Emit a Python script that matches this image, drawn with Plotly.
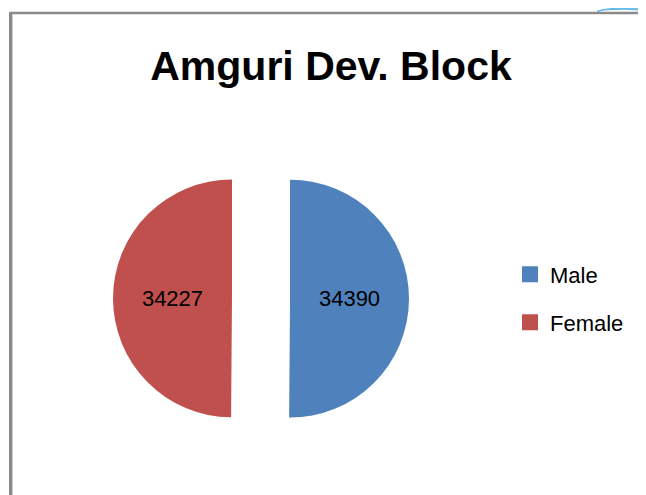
import plotly.graph_objects as go

# ---- data ----
categories = ["Male", "Female"]
values = [34390, 34227]
colors = ["#4F81BD", "#C0504D"]
title_text = "Amguri Dev. Block"

# the page body has an 8px margin; work in screen pixels and convert
OFF = 8
W, H = 646 - OFF, 495 - OFF
FONT = "Liberation Sans, Arial, sans-serif"


def px(x):
    return (x - OFF) / W


def py(y):
    return 1 - (y - OFF) / H


fig = go.Figure()

# pie (exploded slices)
cx, cy, side = 261, 298.5, 296
fig.add_trace(go.Pie(
    labels=categories,
    values=values,
    marker=dict(colors=colors, line=dict(width=0)),
    sort=False,
    direction="clockwise",
    rotation=0,
    pull=[0.244, 0.244],
    texttemplate="%{value:.0f}",
    textposition="inside",
    insidetextorientation="horizontal",
    insidetextfont=dict(family=FONT, size=22, color="#000000"),
    showlegend=False,
    hoverinfo="label+value",
    domain=dict(x=[px(cx - side / 2), px(cx + side / 2)],
                y=[py(cy + side / 2), py(cy - side / 2)]),
))

# legend entries (one legend per category so spacing matches)
legend_names = ["legend", "legend2"]
legend_y = [274.5, 322.5]
for name, col, lg in zip(categories, colors, legend_names):
    fig.add_trace(go.Scatter(
        x=[None], y=[None], mode="markers", name=name,
        marker=dict(symbol="square", size=16, color=col),
        legend=lg, showlegend=True, hoverinfo="skip",
    ))

legend_common = dict(
    font=dict(family=FONT, size=22, color="#000000"),
    bgcolor="rgba(0,0,0,0)", borderwidth=0,
    xanchor="left", yanchor="middle", itemwidth=30,
)
lx = px(510)
fig.update_layout(
    legend=dict(x=lx, y=py(legend_y[0]), **legend_common),
    legend2=dict(x=lx, y=py(legend_y[1]), **legend_common),
)

fig.update_layout(
    width=W, height=H,
    margin=dict(l=0, r=0, t=0, b=0),
    paper_bgcolor="#ffffff",
    plot_bgcolor="rgba(0,0,0,0)",
    showlegend=True,
    xaxis=dict(visible=False, domain=[0, 1]),
    yaxis=dict(visible=False, domain=[0, 1]),
    title=dict(text="<b>" + title_text + "</b>", x=px(331), xanchor="center",
               y=py(66), yanchor="middle", yref="container", xref="container",
               font=dict(family=FONT, size=41, color="#000000")),
    shapes=[
        # chart frame (left and top edges)
        dict(type="line", xref="paper", yref="paper", x0=px(10.5), x1=px(10.5),
             y0=0, y1=py(12), line=dict(color="#8a8a8a", width=3)),
        dict(type="line", xref="paper", yref="paper", x0=px(9), x1=1,
             y0=py(13), y1=py(13), line=dict(color="#8a8a8a", width=2.5)),
        dict(type="line", xref="paper", yref="paper", x0=px(12.5), x1=px(12.5),
             y0=0, y1=py(14), line=dict(color="#d0d0d0", width=1)),
        # decorative clipart fragment at top-right
        dict(type="path", xref="paper", yref="paper",
             path="M {:.4f},{:.4f} Q {:.4f},{:.4f} {:.4f},{:.4f} L 1,{:.4f} L 1,{:.4f} Q {:.4f},{:.4f} {:.4f},{:.4f} Z".format(
                 px(597), py(11.5), px(606), py(8), px(625), py(8),
                 py(8), py(10.5), px(625), py(8), px(603), py(10)),
             fillcolor="#8fd3f4", line=dict(color="#4fb4e6", width=1)),
    ],
)

fig.write_html("out.html")
